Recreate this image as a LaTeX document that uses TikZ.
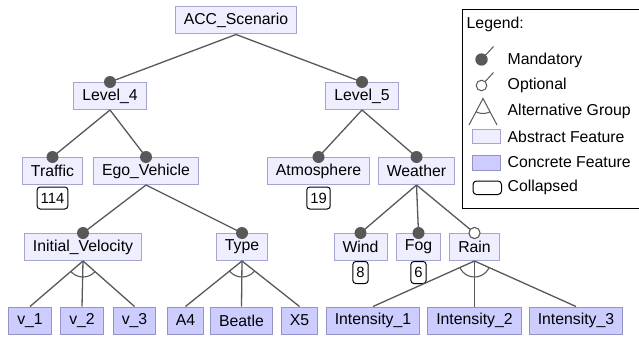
\documentclass[tikz,border=0pt]{standalone}
\usepackage{fontspec}
\setmainfont{Liberation Sans}
\usetikzlibrary{positioning}
\definecolor{absF}{HTML}{EEEEFF}
\definecolor{absB}{HTML}{A4A4D0}
\definecolor{conF}{HTML}{CCCCFF}
\definecolor{conB}{HTML}{9494C4}
\definecolor{edgeC}{HTML}{585858}
\begin{document}
\begin{tikzpicture}[x=1pt,y=-1pt,
  feat/.style={line width=1pt, inner xsep=8.5pt, inner ysep=0pt, minimum height=27pt,
    font=\fontsize{15.8}{18}\selectfont},
  abs/.style={feat, draw=absB, fill=absF},
  con/.style={feat, draw=conB, fill=conF},
  coll/.style={draw=black, fill=white, line width=1pt, rounded corners=3pt, inner xsep=3.5pt,
    inner ysep=0pt, minimum height=22pt, font=\fontsize{14.8}{17}\selectfont},
  edge/.style={draw=edgeC, line width=1.3pt},
  mand/.style={fill=edgeC},
  opt/.style={draw=edgeC, line width=1.1pt, fill=white},
  legtxt/.style={anchor=west, inner sep=0pt, font=\fontsize{15.8}{18}\selectfont}]
\useasboundingbox (0,0) rectangle (639,337);

% feature nodes
\node[abs] (acc) at (236,20.5) {ACC\_Scenario};
\node[abs] (l4) at (110,96) {Level\_4};
\node[abs] (l5) at (362,96) {Level\_5};
\node[abs] (traffic) at (52.5,171) {Traffic};
\node[abs] (ego) at (146,171) {Ego\_Vehicle};
\node[abs] (atm) at (318.5,171) {Atmosphere};
\node[abs] (weather) at (416.5,171) {Weather};
\node[abs] (iv) at (83,247) {Initial\_Velocity};
\node[abs] (type) at (242,247) {Type};
\node[abs] (wind) at (360.5,247) {Wind};
\node[abs] (fog) at (418.5,247) {Fog};
\node[abs] (rain) at (474.5,247) {Rain};
\node[con] (v1) at (30,320.5) {v\_1};
\node[con] (v2) at (82,320.5) {v\_2};
\node[con] (v3) at (134.5,320.5) {v\_3};
\node[con] (a4) at (185.5,320.5) {A4};
\node[con] (beatle) at (241.5,320.5) {Beatle};
\node[con] (x5) at (299.5,320.5) {X5};
\node[con] (i1) at (373,320.5) {Intensity\_1};
\node[con] (i2) at (474.5,320.5) {Intensity\_2};
\node[con] (i3) at (576,320.5) {Intensity\_3};

% collapsed counts
\node[coll, below=1.5pt of traffic] (c114) {114};
\node[coll, below=1.5pt of atm] (c19) {19};
\node[coll, below=0pt of wind] (c8) {8};
\node[coll, below=0pt of fog] (c6) {6};

% connectors
\foreach \p/\c in {acc/l4, acc/l5, l4/traffic, l4/ego, l5/atm, l5/weather,
  ego/iv, ego/type, weather/wind, weather/fog, weather/rain,
  iv/v1, iv/v2, iv/v3, type/a4, type/beatle, type/x5, rain/i1, rain/i2, rain/i3}
  \draw[edge] (\p.south) -- (\c.north);

% mandatory / optional markers
\foreach \c in {l4, l5, traffic, ego, atm, weather, iv, type, wind, fog}
  \fill[mand] (\c.north) circle (6pt);
\draw[opt] (rain.north) circle (5.6pt);

% alternative group arcs
\foreach \p/\a/\b in {iv/v1/v3, type/a4/x5, rain/i1/i3}{
  \begin{scope}
    \clip (\p.south) -- (\a.north) -- (\b.north) -- cycle;
    \draw[edge, line width=1.1pt] (\p.south) circle (16pt);
  \end{scope}
}

% legend
\draw[black, line width=1pt] (639,9.5) -- (462.5,9.5) -- (462.5,208) -- (639,208);
\node[legtxt] (lg) at (466.5,24) {Legend:};
\node[legtxt] (lmand) at (507.5,60) {Mandatory};
\node[legtxt] (lopt) at (507.5,85.5) {Optional};
\node[legtxt] (lalt) at (507.5,111) {Alternative Group};
\node[legtxt] (labs) at (507.5,136.5) {Abstract Feature};
\node[legtxt] (lcon) at (507.5,162) {Concrete Feature};
\node[legtxt] (lcol) at (507.5,187.5) {Collapsed};

\draw[edgeC, line width=1pt] (482,59) -- (493.5,46.5);
\fill[mand] (481.5,59.5) circle (6.2pt);
\draw[edgeC, line width=1pt] (482,85) -- (493.5,72.5);
\draw[opt, line width=1pt] (481.5,85.5) circle (5.3pt);
\draw[edgeC, line width=1pt] (469,125) -- (483,98.5) -- (497,125);
\begin{scope}
  \clip (483,98.5) -- (469,125) -- (497,125) -- cycle;
  \draw[edgeC, line width=1pt] (483,98.5) circle (15pt);
\end{scope}
\draw[absB, fill=absF, line width=1pt] (472.5,129) rectangle (500.5,143.5);
\draw[conB, fill=conF, line width=1pt] (472.5,155.5) rectangle (500.5,170);
\draw[black, line width=1pt, rounded corners=3.5pt] (473,181) rectangle (501.5,194.5);
\end{tikzpicture}
\end{document}
